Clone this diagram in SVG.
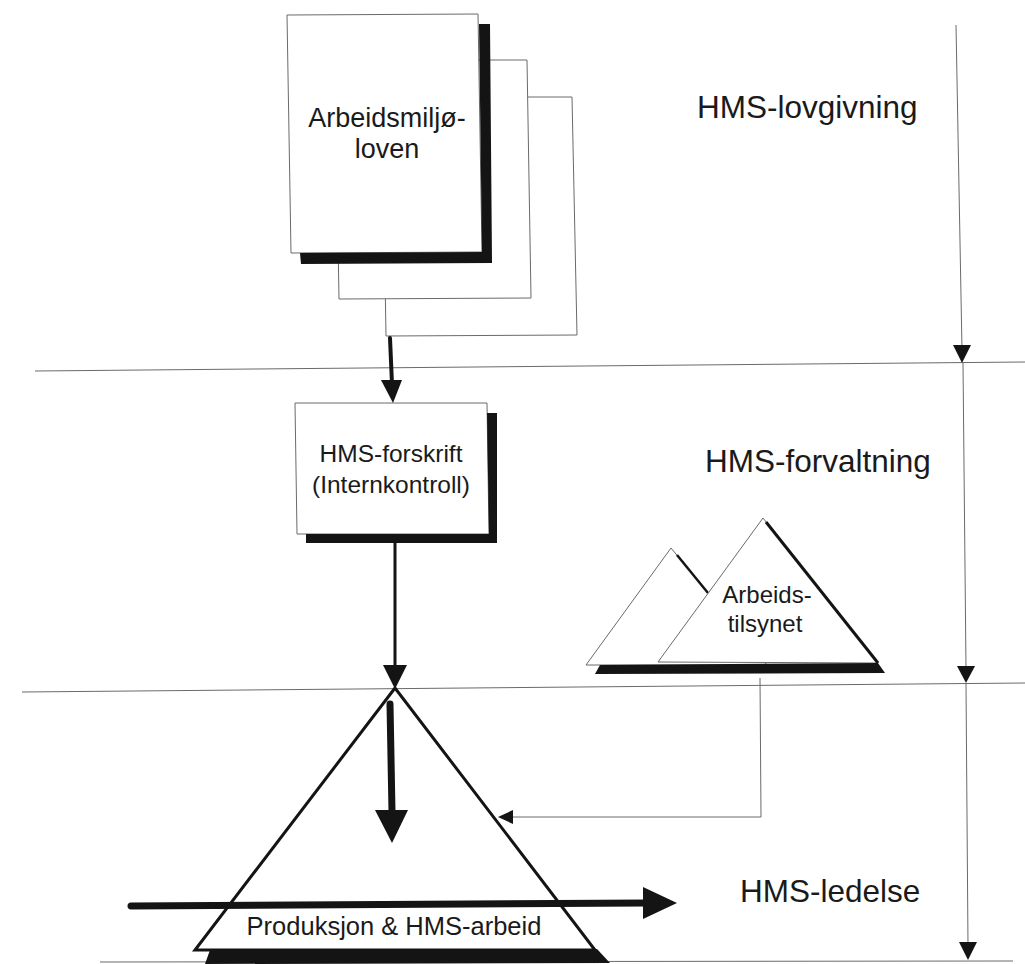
<svg xmlns="http://www.w3.org/2000/svg" width="1025" height="964" viewBox="0 0 1025 964">
<style>
.bg{fill:#ffffff}
.thin{fill:none;stroke:#6a6a6a;stroke-width:1}
.doc{fill:#ffffff;stroke:#6a6a6a;stroke-width:1}
.shadow{fill:#141414;stroke:none}
.head{fill:#141414;stroke:none}
.txt{font-family:"Liberation Sans",Arial,sans-serif;fill:#1a1a1a;text-anchor:middle}
.lbl{font-family:"Liberation Sans",Arial,sans-serif;fill:#1a1a1a;font-size:31.5px}
.thick{fill:none;stroke:#141414;stroke-linecap:round}
</style>
<rect class="bg" x="0" y="0" width="1025" height="964"/>

<g id="separators">
  <line class="thin" x1="35" y1="371" x2="1025" y2="362"/>
  <line class="thin" x1="22" y1="692" x2="1025" y2="683"/>
  <line class="thin" x1="100" y1="962" x2="1013" y2="961"/>
</g>

<g id="node-arbeidsmiljoloven">
  <polygon class="doc" points="382,97 572,97 577,335 386,336"/>
  <polygon class="doc" points="335,60 527,60 531,298 339,299"/>
  <polygon class="doc" points="287,15 478,14 482,252 291,253"/>
  <polygon class="shadow" points="479,24 490,24 492,263 301,264 300,253 482,252"/>
  <text class="txt" font-size="27" x="387" y="127">Arbeidsmiljø-</text>
  <text class="txt" font-size="27" x="387" y="158">loven</text>
</g>

<g id="node-hms-forskrift">
  <polygon class="doc" points="295,403 487,403 489,534 297,534"/>
  <polygon class="shadow" points="487,413 497,413 497,543 306,543 306,534 489,534"/>
  <text class="txt" font-size="24.5" x="391" y="462">HMS-forskrift</text>
  <text class="txt" font-size="24.5" x="391" y="493">(Internkontroll)</text>
</g>

<g id="node-arbeidstilsynet">
  <polygon class="doc" points="586,665 671,548 767,665"/>
  <line x1="677" y1="555" x2="708" y2="593" stroke="#141414" stroke-width="2.5"/>
  <polygon class="doc" points="658,662 763,518 878,663"/>
  <line x1="766" y1="522" x2="878" y2="663" stroke="#141414" stroke-width="3"/>
  <polygon class="shadow" points="600,665 878,663 885,673 595,674"/>
  <text class="txt" font-size="24" x="767" y="603">Arbeids-</text>
  <text class="txt" font-size="24" x="765" y="632">tilsynet</text>
</g>

<g id="node-produksjon">
  <polygon class="shadow" points="210,950 597,949 610,963 205,964"/>
  <polygon fill="#ffffff" stroke="#141414" stroke-width="3" stroke-linejoin="miter" points="395,688 195,950 595,950"/>
  <text class="txt" font-size="25.5" x="394" y="935">Produksjon &amp; HMS-arbeid</text>
</g>

<g id="labels">
  <text class="lbl" x="697" y="118">HMS-lovgivning</text>
  <text class="lbl" x="705" y="472">HMS-forvaltning</text>
  <text class="lbl" x="740" y="902">HMS-ledelse</text>
</g>

<g id="connectors">
  <!-- loven to forskrift -->
  <line class="thick" x1="390" y1="338" x2="392" y2="384" stroke-width="4" stroke-linecap="butt"/>
  <polygon class="head" points="381,380 402,380 393,403"/>
  <!-- forskrift to triangle apex -->
  <line class="thick" x1="395" y1="543" x2="395" y2="668" stroke-width="3" stroke-linecap="butt"/>
  <polygon class="head" points="383,665 407,665 395,689"/>
  <!-- big down arrow inside triangle -->
  <line class="thick" x1="390" y1="704" x2="392" y2="812" stroke-width="7"/>
  <polygon class="head" points="375,810 408,810 392,843"/>
  <!-- horizontal production arrow -->
  <line class="thick" x1="131" y1="906" x2="646" y2="903" stroke-width="7"/>
  <polygon class="head" points="643,887 643,919 677,903"/>
  <!-- arbeidstilsynet to triangle -->
  <polyline class="thin" points="760,678 761,817 510,817"/>
  <polygon class="head" points="513,810 513,824 498,817"/>
  <!-- right side level arrows -->
  <line class="thin" x1="956" y1="25" x2="962" y2="350"/>
  <polygon class="head" points="953,345 971,345 962,363"/>
  <line class="thin" x1="963" y1="363" x2="966" y2="670"/>
  <polygon class="head" points="957,666 975,666 966,683"/>
  <line class="thin" x1="966" y1="683" x2="968" y2="946"/>
  <polygon class="head" points="959,942 977,942 968,960"/>
</g>
</svg>
